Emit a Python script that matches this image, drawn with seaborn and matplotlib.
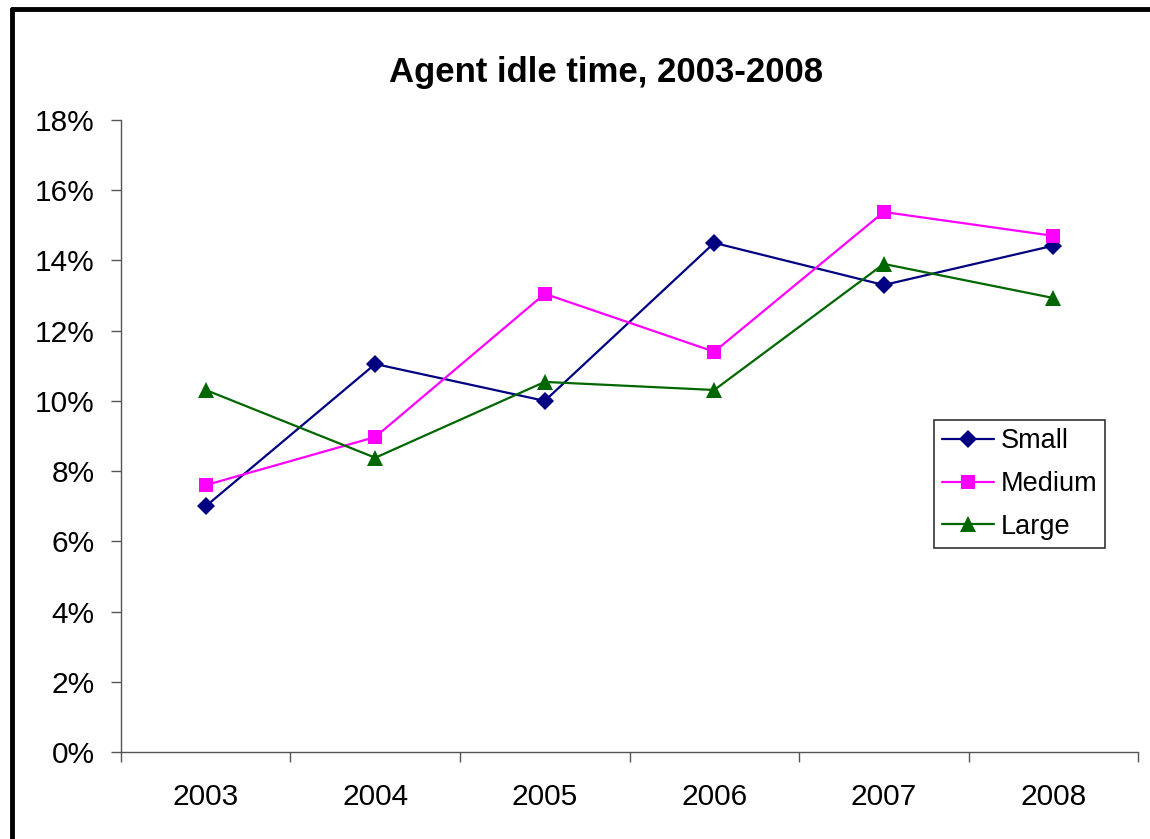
import matplotlib
matplotlib.use("Agg")
import matplotlib.pyplot as plt
from matplotlib.lines import Line2D
from matplotlib.ticker import FuncFormatter, FixedLocator
import numpy as np
import pandas as pd
import seaborn as sns

years = [2003, 2004, 2005, 2006, 2007, 2008]
small = [7.0, 11.05, 10.0, 14.5, 13.3, 14.42]
medium = [7.6, 8.97, 13.05, 11.4, 15.38, 14.7]
large = [10.31, 8.38, 10.54, 10.31, 13.9, 12.93]
series_names = ["Small", "Medium", "Large"]
series_colors = {"Small": "#000080", "Medium": "#FF00FF", "Large": "#006600"}
series_markers = {"Small": "D", "Medium": "s", "Large": "^"}
marker_sizes = {"D": 9, "s": 10.5, "^": 12}
y_ticks = [0, 2, 4, 6, 8, 10, 12, 14, 16, 18]

df = pd.DataFrame({
    "Year": years * 3,
    "Idle": small + medium + large,
    "Size": sum([[n] * len(years) for n in series_names], []),
})

sns.set_theme(style="white")
plt.rcParams["font.family"] = ["Liberation Sans", "DejaVu Sans"]
plt.rcParams["text.color"] = "black"

fig = plt.figure(figsize=(11.5, 8.39), dpi=100)
ax = fig.add_axes([0.1052, 0.1037, 0.8844, 0.7533])

sns.lineplot(data=df, x="Year", y="Idle", hue="Size", style="Size",
             hue_order=series_names, style_order=series_names,
             palette=series_colors, markers=series_markers, dashes=False,
             markersize=9, linewidth=1.6, markeredgewidth=0, ax=ax)
for ln in ax.lines:
    m = ln.get_marker()
    if m in marker_sizes:
        ln.set_markersize(marker_sizes[m])

ax.set_xlim(years[0] - 0.5, years[-1] + 0.5)
ax.set_ylim(0, 18)
ax.set_yticks(y_ticks)
ax.yaxis.set_major_formatter(FuncFormatter(lambda v, p: f"{v:.0f}%"))
ax.set_xticks(years)
ax.set_xticklabels([str(y) for y in years])
ax.xaxis.set_minor_locator(FixedLocator([y - 0.5 for y in years] + [years[-1] + 0.5]))
ax.tick_params(axis="x", which="major", length=0, pad=22, labelsize=21.5, colors="black")
ax.tick_params(axis="x", which="minor", length=7, width=1, color="#555555", direction="out", bottom=True)
ax.tick_params(axis="y", length=7, width=1, color="#555555", direction="out", left=True,
               labelsize=21.5, pad=12, labelcolor="black")
ax.set_xlabel("")
ax.set_ylabel("")
for side in ["top", "right"]:
    ax.spines[side].set_visible(False)
for side in ["left", "bottom"]:
    ax.spines[side].set_color("#555555")
    ax.spines[side].set_linewidth(1)

fig.text(0.527, 0.914, "Agent idle time, 2003-2008", fontsize=25, fontweight="bold",
         color="black", ha="center", va="center")

handles, labels = ax.get_legend_handles_labels()
for h in handles:
    m = h.get_marker()
    if m in marker_sizes:
        h.set_markersize(marker_sizes[m])
leg = ax.legend(handles, labels, loc="upper left", bbox_to_anchor=(0.7994, 0.525),
                borderaxespad=0, fontsize=19.5, frameon=True, fancybox=False,
                edgecolor="black", handlelength=1.9, handletextpad=0.25,
                labelspacing=0.62, borderpad=0.3)
leg.get_frame().set_linewidth(1.2)
for t in leg.get_texts():
    t.set_color("black")

# outer frame of the chart area
fig.add_artist(Line2D([0.0108, 1.0], [0.9893, 0.9893], transform=fig.transFigure,
                      color="black", linewidth=3.5))
fig.add_artist(Line2D([0.0108, 0.0108], [0.0, 0.9893], transform=fig.transFigure,
                      color="black", linewidth=3.5))

fig.savefig("out.png", dpi=100, facecolor="white")
